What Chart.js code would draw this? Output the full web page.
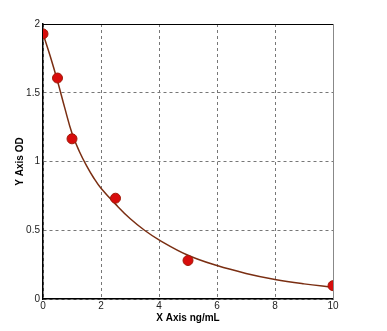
<!DOCTYPE html>
<html><head><meta charset="utf-8">
<script src="https://cdn.jsdelivr.net/npm/chart.js@4/dist/chart.umd.min.js"></script>
<style>html,body{margin:0;padding:0;background:#fff}#c{display:block}</style>
</head><body>
<canvas id="c" width="387" height="331"></canvas>
<script>
const stdX = [0, 0.5, 1, 2.5, 5, 10];
const stdY = [1.928, 1.607, 1.165, 0.733, 0.28, 0.097];
const curveX = [0, 0.25, 0.5, 0.75, 1, 1.25, 1.5, 1.75, 2, 2.5, 3, 3.5, 4, 5, 6, 7, 8, 9, 10];
const curveY = [1.93, 1.765, 1.585, 1.39, 1.205, 1.075, 0.97, 0.88, 0.805, 0.69, 0.585, 0.50, 0.43, 0.318, 0.243, 0.186, 0.142, 0.11, 0.085];
const xTicks = [0, 2, 4, 6, 8, 10];
const yTicks = [0, 0.5, 1, 1.5, 2];

const frame = {
  id: 'frame',
  afterDraw(chart) {
    const {ctx, chartArea: a} = chart;
    ctx.save();
    ctx.lineWidth = 1;
    ctx.strokeStyle = '#000';
    ctx.beginPath(); ctx.moveTo(a.left, a.top + 0.5); ctx.lineTo(a.right, a.top + 0.5); ctx.stroke();
    ctx.strokeStyle = '#888';
    ctx.beginPath(); ctx.moveTo(a.right + 0.5, a.top); ctx.lineTo(a.right + 0.5, a.bottom); ctx.stroke();
    ctx.restore();
  }
};

new Chart(document.getElementById('c'), {
  type: 'scatter',
  data: {
    datasets: [
      {
        data: curveX.map((x, i) => ({x, y: curveY[i]})),
        showLine: true, borderColor: '#7a2e12', borderWidth: 1.5,
        pointRadius: 0, tension: 0.4, order: 1
      },
      {
        data: stdX.map((x, i) => ({x, y: stdY[i]})),
        showLine: false, pointRadius: 5, pointBackgroundColor: '#d80c0c',
        pointBorderColor: '#a01a08', pointBorderWidth: 1, order: 0
      }
    ]
  },
  options: {
    responsive: false, animation: false,
    layout: {padding: {top: 24, right: 54, left: 14, bottom: 0}},
    plugins: {legend: {display: false}, tooltip: {enabled: false}},
    scales: {
      x: {
        type: 'linear', min: 0, max: 10,
        afterBuildTicks: s => { s.ticks = xTicks.map(v => ({value: v})); },
        afterFit: s => { s.height = 32; },
        grid: {color: '#777', lineWidth: 1, drawTicks: false, tickLength: 0},
        border: {color: '#000', width: 1.5, dash: [3, 3]},
        ticks: {color: '#222', font: {family: 'Liberation Sans, Arial', size: 10}, padding: 1, maxRotation: 0, callback: v => String(v)},
        title: {display: true, text: 'X Axis ng/mL', color: '#000', font: {family: 'Liberation Sans, Arial', size: 10, weight: 'bold'}, padding: {top: 0, bottom: 7}}
      },
      y: {
        type: 'linear', min: 0, max: 2,
        afterBuildTicks: s => { s.ticks = yTicks.map(v => ({value: v})); },
        afterFit: s => { s.width = 29; },
        grid: {color: '#777', lineWidth: 1, drawTicks: false, tickLength: 0},
        border: {color: '#000', width: 1.5, dash: [3, 3]},
        ticks: {color: '#222', font: {family: 'Liberation Sans, Arial', size: 10}, padding: 3, callback: v => String(v)},
        title: {display: true, text: 'Y Axis OD', color: '#000', font: {family: 'Liberation Sans, Arial', size: 10, weight: 'bold'}, padding: {top: 0, bottom: 4}}
      }
    }
  },
  plugins: [frame]
});
</script>
</body></html>
